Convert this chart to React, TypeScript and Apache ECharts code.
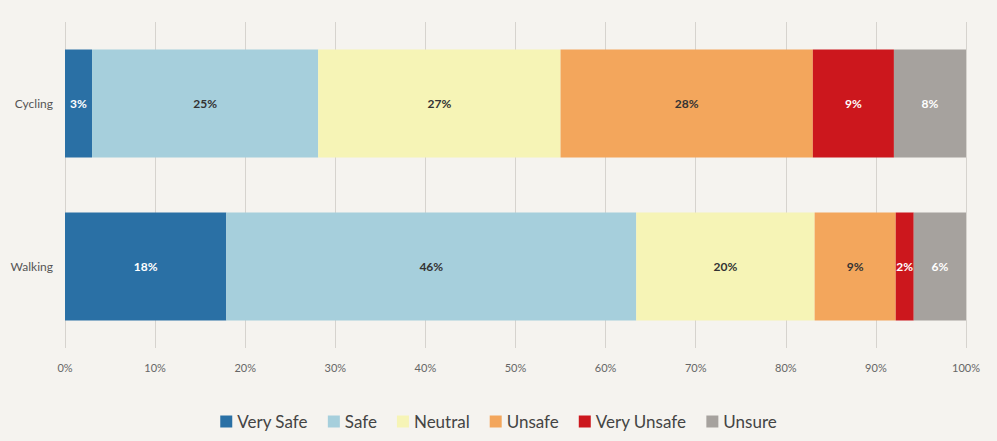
import React, { useEffect, useRef } from "react";
import * as echarts from "echarts";

const categories = ["Cycling", "Walking"];
const seriesNames = ["Very Safe", "Safe", "Neutral", "Unsafe", "Very Unsafe", "Unsure"];
const verySafe = [3.0, 17.9];
const safe = [25.1, 45.5];
const neutral = [26.9, 19.8];
const unsafe = [28.0, 9.0];
const veryUnsafe = [9.0, 2.0];
const unsure = [8.0, 5.9];
const xTicks = [0, 10, 20, 30, 40, 50, 60, 70, 80, 90, 100];

const colors = ["#2a70a5", "#a6cfdc", "#f6f4b6", "#f3a65c", "#cc171d", "#a6a29e"];
const labelColors = ["#ffffff", "#333333", "#333333", "#333333", "#ffffff", "#ffffff"];

export default function App() {
  const ref = useRef<HTMLDivElement>(null);
  useEffect(() => {
    if (!ref.current) return;
    const chart = echarts.init(ref.current, null, { renderer: "svg" });
    const data = [verySafe, safe, neutral, unsafe, veryUnsafe, unsure];
    chart.setOption({
      animation: false,
      backgroundColor: "#f5f3ef",
      textStyle: { fontFamily: "Lato, 'Open Sans', sans-serif" },
      grid: { left: 65, right: 31, top: 22, bottom: 93, containLabel: false },
      legend: {
        bottom: 6,
        left: "center",
        itemWidth: 12,
        itemHeight: 12,
        itemGap: 20,
        icon: "rect",
        textStyle: { fontSize: 17, color: "#444", fontFamily: "Lato, sans-serif" },
        data: seriesNames,
      },
      xAxis: {
        type: "value",
        min: xTicks[0],
        max: xTicks[xTicks.length - 1],
        interval: 10,
        axisLine: { show: false },
        axisTick: { show: false },
        splitLine: { show: true, lineStyle: { color: "#d6d3ce", width: 1 } },
        axisLabel: {
          formatter: (v: number) => v + "%",
          color: "#666",
          fontSize: 11,
          margin: 14,
        },
      },
      yAxis: {
        type: "category",
        data: categories,
        inverse: true,
        axisLine: { show: false },
        axisTick: { show: false },
        axisLabel: { color: "#555", fontSize: 12, margin: 12 },
      },
      series: seriesNames.map((name, i) => ({
        name,
        type: "bar",
        stack: "total",
        barWidth: 108,
        itemStyle: { color: colors[i] },
        label: {
          show: true,
          position: "inside",
          formatter: (p: any) => Math.round(p.value) + "%",
          color: labelColors[i],
          fontSize: 12,
          fontWeight: "bold",
        },
        data: data[i],
      })),
    });
    return () => chart.dispose();
  }, []);
  return (
    <div
      ref={ref}
      style={{ position: "fixed", left: 0, top: 0, width: 997, height: 441 }}
    />
  );
}
